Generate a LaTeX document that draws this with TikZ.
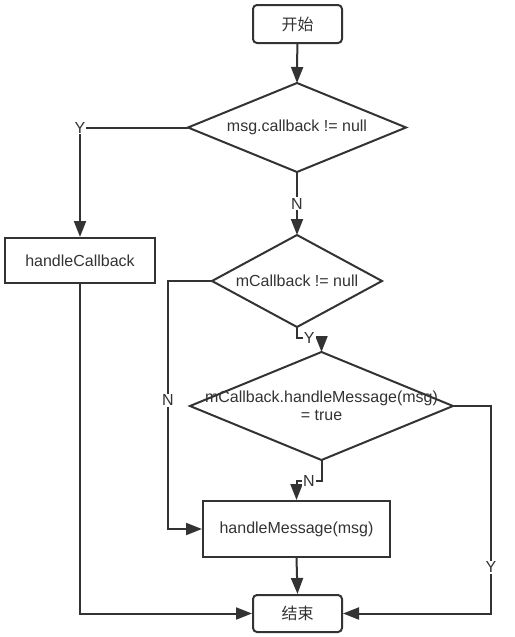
\documentclass[tikz,border=0pt]{standalone}
\usepackage{fontspec}
\setmainfont{Liberation Sans}
\newfontfamily\cjk{Noto Sans CJK SC}
\usetikzlibrary{shapes.geometric,arrows.meta}
\definecolor{ink}{HTML}{333333}
\tikzset{
  base/.style={draw=ink,line width=2pt,text=ink,font=\fontsize{16}{18}\selectfont,inner sep=0pt},
  term/.style={base,rectangle,rounded corners=4pt},
  proc/.style={base,rectangle},
  dec/.style={base,diamond,outer sep=0pt},
  dectext/.style={text=ink,font=\fontsize{16}{18}\selectfont,align=center,inner sep=0pt},
  conn/.style={draw=ink,line width=2pt,-{Triangle[length=16pt,width=12pt]}},
  lbl/.style={fill=white,text=ink,font=\fontsize{16}{18}\selectfont,inner sep=1pt}
}
\begin{document}
\begin{tikzpicture}[x=1pt,y=-1pt]
\useasboundingbox (0,0) rectangle (514,637);
\node[term,minimum width=89pt,minimum height=38pt] (start) at (297.5,24) {\cjk 开始};
\node[dec,minimum width=218pt,minimum height=89pt] (d1) at (297,127.5) {};
\node[dectext] (d1t) at (d1) {msg.callback != null};
\node[dec,minimum width=170pt,minimum height=92pt] (d2) at (297,281) {};
\node[dectext] (d2t) at (d2) {mCallback != null};
\node[dec,minimum width=263pt,minimum height=108pt] (d3) at (321.5,406) {};
\node[dectext] (d3t) at (d3) {mCallback.handleMessage(msg)\\= true};
\node[proc,minimum width=150pt,minimum height=45pt] (hc) at (80,260.5) {handleCallback};
\node[proc,minimum width=187pt,minimum height=56pt] (hm) at (296.5,529) {handleMessage(msg)};
\node[term,minimum width=89pt,minimum height=37pt] (end) at (297.5,613.5) {\cjk 结束};

\draw[conn] (start) -- (d1.north);
\draw[conn] (d1.south) -- node[lbl] (n1) {N} (d2.north);
\draw[conn] (d1.west) -| node[lbl,pos=0.5] (y1) {Y} (hc.north);
\draw[conn] (d2.south) -- ++(0,11) -| node[lbl,pos=0.25] (y2) {Y} (d3.north);
\draw[conn] (d3.south) -- ++(0,21) -| node[lbl,pos=0.25] (n3) {N} (hm.north);
\draw[conn] (d2.west) -- ++(-44,0) |- node[lbl,pos=0.24] (n2) {N} (hm.west);
\draw[conn] (d3.east) -- ++(38,0) |- node[lbl,pos=0.388] (y3) {Y} (end.east);
\draw[conn] (hc.south) |- (end.west);
\draw[conn] (hm.south) -- (end.north);
\end{tikzpicture}
\end{document}
